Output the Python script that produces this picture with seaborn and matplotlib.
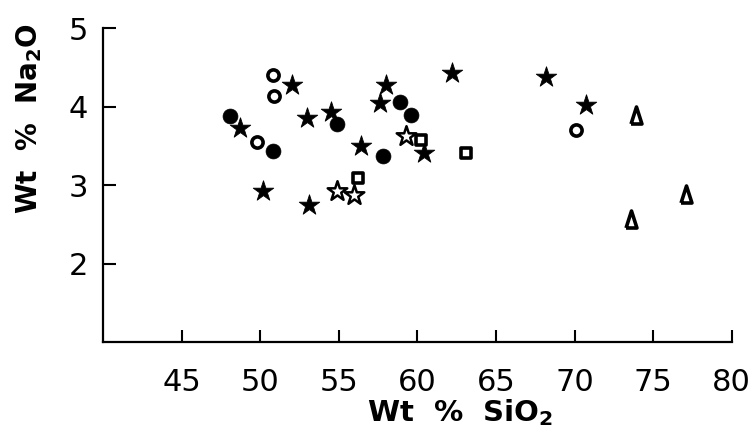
import matplotlib
matplotlib.use("Agg")
import matplotlib.pyplot as plt
import seaborn as sns
import pandas as pd

# Data
filled_circle_x = [48.1, 50.8, 54.9, 57.8, 58.9, 59.6]
filled_circle_y = [3.88, 3.44, 3.78, 3.37, 4.06, 3.90]

open_circle_x = [50.8, 50.9, 49.8, 70.1]
open_circle_y = [4.40, 4.13, 3.55, 3.70]

filled_star_x = [52.0, 48.7, 53.0, 54.5, 58.0, 57.6, 56.4, 50.2, 53.1, 62.2, 68.2, 60.4, 70.7]
filled_star_y = [4.27, 3.73, 3.85, 3.93, 4.28, 4.05, 3.50, 2.92, 2.74, 4.43, 4.38, 3.41, 4.02]

open_star_x = [54.9, 56.0, 59.3]
open_star_y = [2.92, 2.88, 3.62]

open_square_x = [56.2, 60.2, 63.1]
open_square_y = [3.09, 3.58, 3.41]

triangle_x = [73.9, 77.1, 73.6]
triangle_y = [3.90, 2.89, 2.57]

x_ticks = [45, 50, 55, 60, 65, 70, 75, 80]
y_ticks = [2, 3, 4, 5]

sns.set_style("white")
plt.rcParams['font.family'] = ['DejaVu Sans']
plt.rcParams['mathtext.default'] = 'regular'

fig = plt.figure(figsize=(7.52, 4.34), dpi=100)
ax = fig.add_axes([0.137, 0.212, 0.836, 0.723])

tri = [(-0.32, -0.5), (0.32, -0.5), (0.0, 0.5), (-0.32, -0.5)]

groups = [
    (filled_circle_x, filled_circle_y, 'o', 'black', 'black', 115, 0.5),
    (open_circle_x, open_circle_y, 'o', 'white', 'black', 65, 2.6),
    (filled_star_x, filled_star_y, '*', 'black', 'black', 240, 0.6),
    (open_star_x, open_star_y, '*', 'white', 'black', 220, 1.8),
    (open_square_x, open_square_y, 's', 'white', 'black', 55, 2.6),
    (triangle_x, triangle_y, tri, 'white', 'black', 150, 2.6),
]
for xs, ys, m, fc, ec, s, lw in groups:
    df = pd.DataFrame({'x': xs, 'y': ys})
    sns.scatterplot(data=df, x='x', y='y', marker=m, s=s, color=fc,
                    edgecolor=ec, linewidth=lw, ax=ax, zorder=3)

ax.set_xlim(40, 80)
ax.set_ylim(1, 5)
ax.set_xticks(x_ticks)
ax.set_yticks(y_ticks)
ax.set_xticklabels([str(t) for t in x_ticks])
ax.set_yticklabels([str(t) for t in y_ticks])
for side in ['top', 'right']:
    ax.spines[side].set_visible(False)
for side in ['left', 'bottom']:
    ax.spines[side].set_linewidth(1.6)
    ax.spines[side].set_color('black')
ax.tick_params(axis='both', direction='in', length=9, width=1.5, colors='black',
               labelcolor='black', labelsize=22, bottom=True, left=True)
ax.tick_params(axis='x', pad=19)
ax.tick_params(axis='y', pad=11)
ax.set_xlabel('Wt  %  SiO$_2$', fontsize=21, fontweight='bold', color='black')
ax.set_ylabel('Wt  %  Na$_2$O', fontsize=20, fontweight='bold', color='black')
ax.xaxis.set_label_coords(0.568, -0.175)
ax.yaxis.set_label_coords(-0.094, 0.713)

fig.savefig('out.png', dpi=100)
